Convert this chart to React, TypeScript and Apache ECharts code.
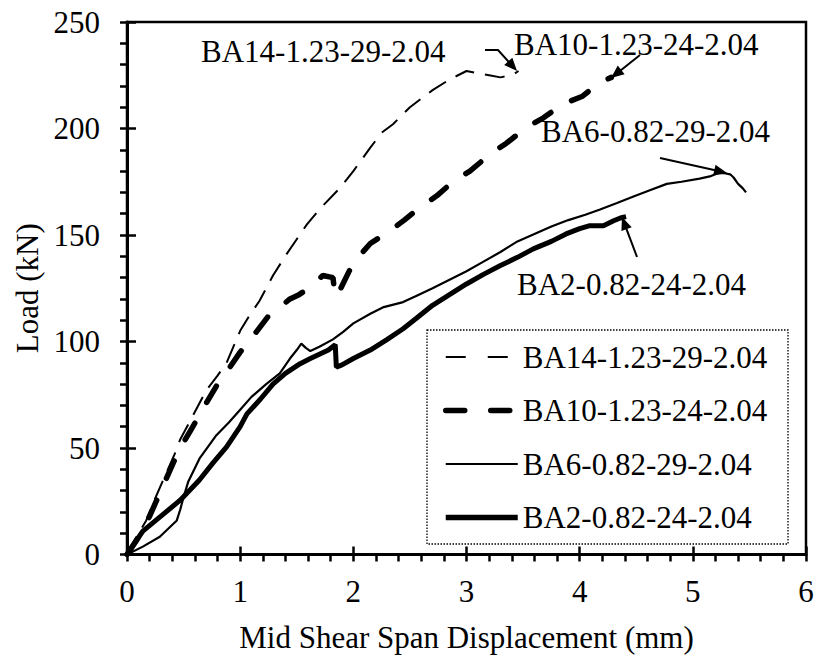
import React, { useEffect, useRef } from "react";
import * as echarts from "echarts";

const seriesNames = [
  "BA14-1.23-29-2.04",
  "BA10-1.23-24-2.04",
  "BA6-0.82-29-2.04",
  "BA2-0.82-24-2.04",
];

// [displacement (mm), load (kN)]
const ba14: number[][] = [
  [0, 0], [0.08, 8], [0.17, 16], [0.23, 24], [0.32, 35], [0.42, 47], [0.47, 54],
  [0.58, 65], [0.7, 77], [0.8, 84], [0.88, 90], [1.0, 105], [1.08, 112], [1.17, 119],
  [1.29, 131], [1.41, 141], [1.5, 148], [1.59, 155], [1.7, 162], [1.88, 172], [2.0, 180],
  [2.15, 191], [2.25, 198], [2.35, 202], [2.5, 210], [2.7, 218], [2.85, 223], [3.0, 227],
  [3.09, 226], [3.2, 225], [3.3, 224], [3.4, 225], [3.46, 227],
];

const ba10: number[][] = [
  [0, 0], [0.1, 8], [0.2, 18], [0.3, 30], [0.4, 42], [0.47, 50], [0.56, 58], [0.7, 71],
  [0.8, 80], [0.91, 88], [1.0, 95], [1.15, 105], [1.25, 112], [1.35, 116], [1.44, 120],
  [1.52, 122], [1.62, 125.5], [1.73, 131], [1.82, 130], [1.84, 121], [1.88, 124],
  [2.0, 137], [2.15, 146], [2.35, 153], [2.45, 157], [2.59, 163], [2.74, 168.5],
  [2.88, 175], [3.03, 180], [3.21, 188], [3.35, 193], [3.53, 200.5], [3.68, 205],
  [3.85, 211.5], [4.02, 215], [4.18, 221.6], [4.28, 224],
];

const ba6: number[][] = [
  [0, 0], [0.14, 3.7], [0.29, 8.3], [0.44, 16], [0.47, 21], [0.5, 27], [0.54, 34],
  [0.64, 45], [0.79, 56], [0.9, 62], [1.0, 68], [1.1, 74], [1.23, 80], [1.35, 85],
  [1.44, 92], [1.5, 96], [1.54, 99], [1.58, 97], [1.62, 95.5], [1.7, 97.5], [1.82, 101],
  [1.91, 104.5], [2.0, 108.5], [2.15, 113], [2.26, 116], [2.44, 118.5], [2.56, 121.5],
  [2.7, 125], [2.85, 129], [3.0, 133], [3.15, 137.5], [3.3, 142], [3.45, 147],
  [3.6, 150.5], [3.75, 154], [3.9, 157], [4.05, 159.5], [4.18, 162], [4.33, 165],
  [4.47, 168], [4.62, 171], [4.77, 174], [4.9, 175], [5.06, 176.5], [5.15, 177.5],
  [5.22, 179], [5.28, 179], [5.33, 178.5], [5.36, 177], [5.4, 174], [5.44, 172], [5.47, 170],
];

const ba2: number[][] = [
  [0, 0], [0.14, 11], [0.3, 18], [0.47, 25.5], [0.64, 35], [0.76, 43], [0.88, 50.5],
  [1.0, 60], [1.06, 66], [1.18, 73], [1.29, 80], [1.4, 85], [1.53, 89.6], [1.62, 92],
  [1.7, 94], [1.78, 96], [1.84, 98.5], [1.85, 88], [1.9, 89], [2.0, 92], [2.15, 96],
  [2.3, 101], [2.44, 106], [2.56, 111], [2.7, 117], [2.85, 122], [3.0, 127],
  [3.15, 131.5], [3.3, 135.7], [3.45, 139.5], [3.59, 143.5], [3.75, 147], [3.88, 150.5],
  [4.0, 153], [4.09, 154.4], [4.21, 154.4], [4.3, 156.7], [4.36, 158], [4.41, 158.6],
];

const xTickValues = [0, 1, 2, 3, 4, 5, 6];
const yTickValues = [0, 50, 100, 150, 200, 250];

const FONT = "'Liberation Serif', 'Times New Roman', serif";

function arrow(points: number[][], len = 13, half = 5.5): any[] {
  const n = points.length;
  const [fx, fy] = points[n - 2];
  const [tx, ty] = points[n - 1];
  const dx = tx - fx;
  const dy = ty - fy;
  const d = Math.sqrt(dx * dx + dy * dy);
  const ux = dx / d;
  const uy = dy / d;
  const bx = tx - ux * len;
  const by = ty - uy * len;
  const linePts = points.slice(0, n - 1).concat([[bx + ux * 2, by + uy * 2]]);
  return [
    {
      type: "polyline",
      shape: { points: linePts },
      style: { stroke: "#000", lineWidth: 2, fill: null },
      z: 100,
    },
    {
      type: "polygon",
      shape: {
        points: [
          [tx, ty],
          [bx - uy * half, by + ux * half],
          [bx + uy * half, by - ux * half],
        ],
      },
      style: { fill: "#000" },
      z: 100,
    },
  ];
}

function label(text: string, x: number, y: number): any {
  return {
    type: "text",
    x,
    y,
    z: 100,
    style: {
      text,
      font: `31px ${FONT}`,
      fill: "#000",
      align: "left",
      verticalAlign: "middle",
    },
  };
}

export default function App() {
  const ref = useRef<HTMLDivElement>(null);

  useEffect(() => {
    if (!ref.current) return;
    const chart = echarts.init(ref.current, undefined, { renderer: "svg" });

    const tickLine = { color: "#000", width: 2.5 };
    const axisLabelStyle = { fontFamily: FONT, fontSize: 31, color: "#000" };
    const hiddenSymbol = { color: "rgba(0,0,0,0)", borderWidth: 0, opacity: 0 };

    const option: any = {
      animation: false,
      backgroundColor: "#fff",
      color: ["#000", "#000", "#000", "#000"],
      grid: {
        left: 127,
        top: 22,
        right: 13,
        bottom: 104.5,
        show: true,
        borderColor: "#000",
        borderWidth: 2.5,
        backgroundColor: "transparent",
      },
      xAxis: [
        {
          type: "value",
          min: xTickValues[0],
          max: xTickValues[xTickValues.length - 1],
          interval: 1,
          position: "bottom",
          name: "Mid Shear Span Displacement (mm)",
          nameLocation: "middle",
          nameGap: 67,
          nameTextStyle: { ...axisLabelStyle },
          axisLine: { show: true, onZero: false, lineStyle: { color: "#000", width: 3 } },
          axisTick: { show: true, inside: false, length: 7, lineStyle: tickLine },
          minorTick: { show: true, splitNumber: 5, length: 7, lineStyle: tickLine },
          axisLabel: { ...axisLabelStyle, margin: 21 },
          splitLine: { show: false },
          minorSplitLine: { show: false },
        },
        {
          type: "value",
          min: xTickValues[0],
          max: xTickValues[xTickValues.length - 1],
          interval: 1,
          position: "bottom",
          axisLine: { show: false, onZero: false },
          axisTick: { show: true, inside: true, length: 8, lineStyle: tickLine },
          axisLabel: { show: false },
          splitLine: { show: false },
        },
      ],
      yAxis: [
        {
          type: "value",
          min: yTickValues[0],
          max: yTickValues[yTickValues.length - 1],
          interval: 50,
          position: "left",
          name: "Load (kN)",
          nameLocation: "middle",
          nameGap: 83,
          nameRotate: 90,
          nameTextStyle: { ...axisLabelStyle },
          axisLine: { show: true, onZero: false, lineStyle: { color: "#000", width: 3 } },
          axisTick: { show: true, inside: false, length: 7, lineStyle: tickLine },
          minorTick: { show: true, splitNumber: 5, length: 7, lineStyle: tickLine },
          axisLabel: { ...axisLabelStyle, margin: 27 },
          splitLine: { show: false },
          minorSplitLine: { show: false },
        },
        {
          type: "value",
          min: yTickValues[0],
          max: yTickValues[yTickValues.length - 1],
          interval: 50,
          position: "left",
          axisLine: { show: false, onZero: false },
          axisTick: { show: true, inside: true, length: 9, lineStyle: tickLine },
          axisLabel: { show: false },
          splitLine: { show: false },
        },
      ],
      legend: {
        orient: "vertical",
        left: 443,
        top: 340,
        padding: 0,
        itemGap: 19.5,
        itemWidth: 72,
        itemHeight: 20,
        selectedMode: false,
        itemStyle: hiddenSymbol,
        textStyle: { fontFamily: FONT, fontSize: 31, color: "#000", lineHeight: 34 },
        data: [
          { name: seriesNames[0], itemStyle: hiddenSymbol, lineStyle: { type: [20, 22], width: 2, color: "#000" } },
          { name: seriesNames[1], itemStyle: hiddenSymbol, lineStyle: { type: [19, 26], width: 5.5, color: "#000", cap: "round" } },
          { name: seriesNames[2], itemStyle: hiddenSymbol, lineStyle: { type: "solid", width: 2, color: "#000" } },
          { name: seriesNames[3], itemStyle: hiddenSymbol, lineStyle: { type: "solid", width: 5.5, color: "#000" } },
        ],
      },
      series: [
        {
          name: seriesNames[0],
          type: "line",
          data: ba14,
          symbol: "none",
          showSymbol: false,
          itemStyle: { color: "#000" },
          lineStyle: { color: "#000", width: 2, type: [20, 11] },
          z: 5,
        },
        {
          name: seriesNames[1],
          type: "line",
          data: ba10,
          symbol: "none",
          showSymbol: false,
          itemStyle: { color: "#000" },
          lineStyle: { color: "#000", width: 5.5, type: [19, 24], cap: "round" },
          z: 4,
        },
        {
          name: seriesNames[2],
          type: "line",
          data: ba6,
          symbol: "none",
          showSymbol: false,
          itemStyle: { color: "#000" },
          lineStyle: { color: "#000", width: 2.2, type: "solid" },
          z: 6,
        },
        {
          name: seriesNames[3],
          type: "line",
          data: ba2,
          symbol: "none",
          showSymbol: false,
          itemStyle: { color: "#000" },
          lineStyle: { color: "#000", width: 5, type: "solid" },
          z: 3,
        },
      ],
      graphic: [
        {
          type: "rect",
          shape: { x: 427, y: 330, width: 361, height: 214 },
          style: { fill: null, stroke: "#000", lineWidth: 1.3, lineDash: [1.5, 1.5] },
          z: 50,
        },
        label(seriesNames[0], 201, 51),
        label(seriesNames[1], 514, 44),
        label(seriesNames[2], 541, 131),
        label(seriesNames[3], 517, 284),
        ...arrow([[485, 50], [498, 50], [517, 71]]),
        ...arrow([[640, 55], [611, 78]]),
        ...arrow([[660, 158], [727, 173]]),
        ...arrow([[637, 257], [622, 217]]),
      ],
    };

    chart.setOption(option);
    return () => {
      chart.dispose();
    };
  }, []);

  return (
    <div
      ref={ref}
      style={{ position: "fixed", left: 0, top: 0, width: 819, height: 659, background: "#fff" }}
    />
  );
}
